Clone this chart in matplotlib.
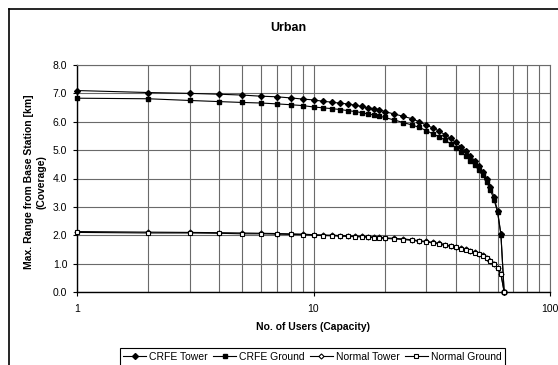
import matplotlib
matplotlib.use('Agg')
import matplotlib.pyplot as plt
from matplotlib.lines import Line2D
from matplotlib.ticker import FixedLocator, LogLocator, NullFormatter

plt.rcParams['font.family'] = ['Liberation Sans', 'DejaVu Sans']

# data
users = [1, 2, 3, 4, 5, 6, 7, 8, 9, 10, 11, 12, 13, 14, 15, 16, 17, 18, 19, 20,
         22, 24, 26, 28, 30, 32, 34, 36, 38, 40, 42, 44, 46, 48, 50, 52, 54, 56,
         58, 60, 62, 64]

crfe_tower = [7.10, 7.03, 7.00, 6.97, 6.94, 6.90, 6.88, 6.84, 6.80, 6.77,
              6.72, 6.69, 6.65, 6.63, 6.58, 6.54, 6.49, 6.46, 6.43, 6.36,
              6.27, 6.19, 6.11, 6.00, 5.88, 5.78, 5.67, 5.54, 5.41, 5.27,
              5.12, 4.97, 4.81, 4.63, 4.45, 4.24, 4.00, 3.70, 3.35, 2.85,
              2.05, 0.00]

crfe_ground = [6.83, 6.81, 6.75, 6.71, 6.68, 6.66, 6.63, 6.60, 6.57, 6.52,
               6.49, 6.46, 6.43, 6.39, 6.36, 6.32, 6.27, 6.24, 6.20, 6.15,
               6.06, 5.97, 5.89, 5.80, 5.69, 5.57, 5.47, 5.35, 5.22, 5.09,
               4.95, 4.79, 4.63, 4.46, 4.30, 4.11, 3.88, 3.59, 3.25, 2.82,
               2.02, 0.00]

normal_tower = [2.13, 2.11, 2.10, 2.09, 2.08, 2.07, 2.06, 2.05, 2.04, 2.02,
                2.01, 2.00, 1.99, 1.98, 1.97, 1.96, 1.95, 1.94, 1.93, 1.91,
                1.89, 1.87, 1.84, 1.81, 1.78, 1.75, 1.71, 1.67, 1.63, 1.59,
                1.55, 1.50, 1.46, 1.41, 1.35, 1.29, 1.21, 1.11, 1.00, 0.86,
                0.65, 0.00]

normal_ground = [2.10, 2.08, 2.08, 2.07, 2.05, 2.05, 2.04, 2.03, 2.02, 2.00,
                 1.99, 1.98, 1.97, 1.96, 1.95, 1.94, 1.93, 1.92, 1.91, 1.89,
                 1.87, 1.85, 1.82, 1.79, 1.76, 1.73, 1.69, 1.65, 1.61, 1.57,
                 1.53, 1.48, 1.44, 1.39, 1.33, 1.27, 1.19, 1.09, 0.98, 0.84,
                 0.63, 0.00]

y_ticks = [0, 1, 2, 3, 4, 5, 6, 7, 8]
x_ticks = [1, 10, 100]

W, H = 558, 365
fig = plt.figure(figsize=(W / 100, H / 100), dpi=100)
ax = fig.add_axes([77 / W, 1 - 292 / H, (550 - 77) / W, (292 - 65) / H])

grid_c = '#6a6a6a'

ax.plot(users, crfe_tower, color='black', lw=0.8, marker='D', ms=3.0,
        mfc='black', mec='black', label='CRFE Tower', clip_on=False, zorder=5)
ax.plot(users, crfe_ground, color='black', lw=0.8, marker='s', ms=3.2,
        mfc='black', mec='black', label='CRFE Ground', clip_on=False, zorder=5)
ax.plot(users, normal_tower, color='black', lw=0.8, marker='D', ms=2.6,
        mfc='white', mec='black', mew=0.8, label='Normal Tower',
        clip_on=False, zorder=5)
ax.plot(users, normal_ground, color='black', lw=0.8, marker='s', ms=2.9,
        mfc='white', mec='black', mew=0.8, label='Normal Ground',
        clip_on=False, zorder=5)

ax.set_xscale('log')
ax.set_xlim(1, 100)
ax.set_ylim(0, 8)
ax.xaxis.set_major_locator(FixedLocator(x_ticks))
ax.set_xticklabels([str(t) for t in x_ticks])
ax.xaxis.set_minor_locator(LogLocator(base=10, subs=range(2, 10)))
ax.xaxis.set_minor_formatter(NullFormatter())
ax.set_yticks(y_ticks)
ax.set_yticklabels(['%.1f' % t for t in y_ticks])

ax.grid(True, which='both', axis='x', color=grid_c, lw=0.8)
ax.grid(True, which='major', axis='y', color=grid_c, lw=0.8)
ax.set_axisbelow(True)

ax.tick_params(axis='both', which='major', direction='out', length=3,
               width=0.8, labelsize=7.5, colors='black')
ax.tick_params(axis='x', which='minor', length=0)
ax.tick_params(axis='x', pad=6)
ax.tick_params(axis='y', pad=4)

for s in ['left', 'bottom']:
    ax.spines[s].set_color('black')
    ax.spines[s].set_linewidth(1.0)
for s in ['top', 'right']:
    ax.spines[s].set_color(grid_c)
    ax.spines[s].set_linewidth(0.8)

# titles
fig.text(288 / W, 1 - 28 / H, 'Urban', ha='center', va='center',
         fontsize=9, fontweight='bold')
fig.text(313 / W, 1 - 327 / H, 'No. of Users (Capacity)', ha='center',
         va='center', fontsize=7.5, fontweight='bold')
fig.text(35 / W, 1 - 182 / H, 'Max. Range from Base Station [km]\n(Coverage)',
         ha='center', va='center', rotation=90, fontsize=7.5,
         fontweight='bold', multialignment='center', linespacing=1.35)

# chart area border
fig.add_artist(Line2D([8.5 / W, 8.5 / W], [0, 1 - 8.5 / H], color='black',
                      lw=1.2, transform=fig.transFigure))
fig.add_artist(Line2D([8.5 / W, 1], [1 - 8.5 / H, 1 - 8.5 / H], color='black',
                      lw=1.2, transform=fig.transFigure))

leg = fig.legend(loc='center', bbox_to_anchor=(312.5 / W, 1 - 357 / H),
                 ncol=4, fontsize=7.5, frameon=True, fancybox=False,
                 edgecolor='black', framealpha=1, handlelength=2.2,
                 handletextpad=0.3, columnspacing=0.5, borderpad=0.35,
                 borderaxespad=0)
leg.get_frame().set_linewidth(0.8)

fig.savefig('out.png', dpi=100)
